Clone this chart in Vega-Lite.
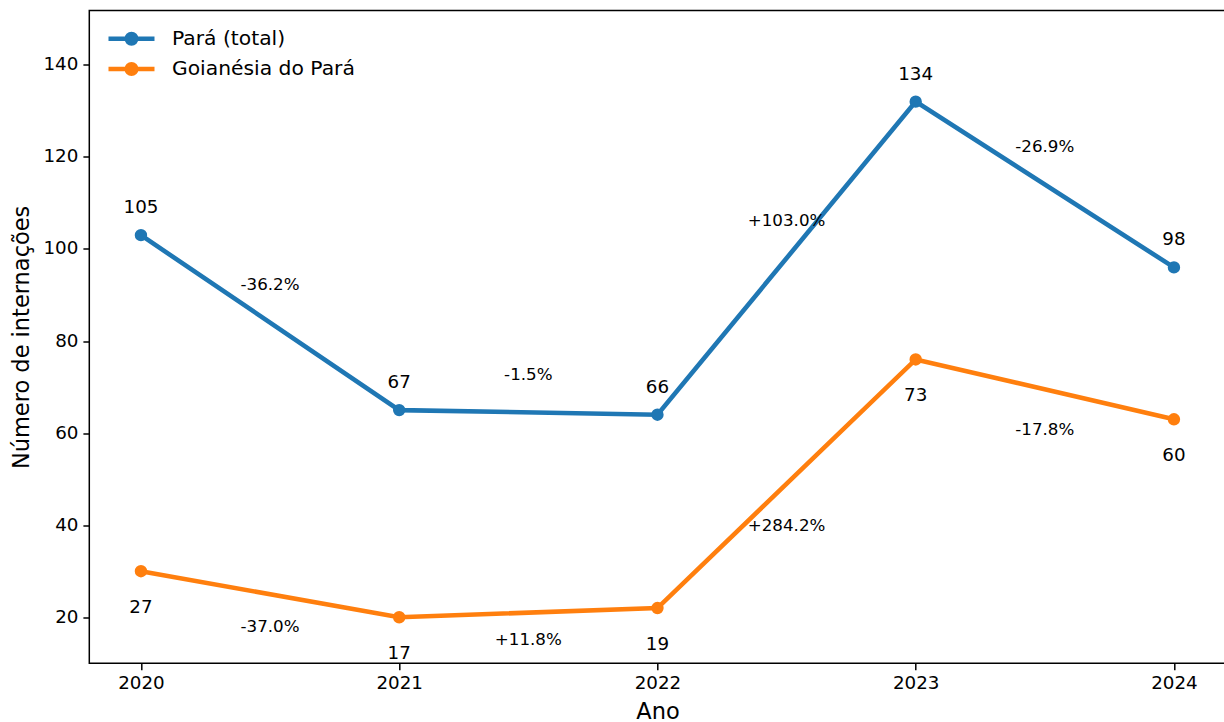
{
  "$schema": "https://vega.github.io/schema/vega-lite/v6.json",
  "width": 1136.3,
  "height": 652.8,
  "autosize": {"type": "none"},
  "padding": {"left": 89.3, "top": 10.5, "right": 0, "bottom": 58.7},
  "background": "white",
  "config": {
    "font": "DejaVu Sans",
    "view": {"stroke": "black", "strokeWidth": 1.5},
    "axis": {
      "grid": false,
      "domain": false,
      "tickColor": "black",
      "tickWidth": 1.5,
      "tickSize": 6.4,
      "labelColor": "black",
      "labelFont": "DejaVu Sans",
      "labelFontSize": 18.3,
      "titleFont": "DejaVu Sans",
      "titleFontSize": 22.5,
      "titleFontWeight": "normal",
      "titleColor": "black"
    }
  },
  "datasets": {
    "series": [
      {"ano": 2020, "serie": "Pará (total)", "valor": 103, "rotulo": "105"},
      {"ano": 2021, "serie": "Pará (total)", "valor": 65, "rotulo": "67"},
      {"ano": 2022, "serie": "Pará (total)", "valor": 64, "rotulo": "66"},
      {"ano": 2023, "serie": "Pará (total)", "valor": 132, "rotulo": "134"},
      {"ano": 2024, "serie": "Pará (total)", "valor": 96, "rotulo": "98"},
      {"ano": 2020, "serie": "Goianésia do Pará", "valor": 30, "rotulo": "27"},
      {"ano": 2021, "serie": "Goianésia do Pará", "valor": 20, "rotulo": "17"},
      {"ano": 2022, "serie": "Goianésia do Pará", "valor": 22, "rotulo": "19"},
      {"ano": 2023, "serie": "Goianésia do Pará", "valor": 76, "rotulo": "73"},
      {"ano": 2024, "serie": "Goianésia do Pará", "valor": 63, "rotulo": "60"}
    ],
    "variacoes": [
      {"ano": 2020.5, "y": 92.2, "texto": "-36.2%"},
      {"ano": 2021.5, "y": 72.6, "texto": "-1.5%"},
      {"ano": 2022.5, "y": 106.1, "texto": "+103.0%"},
      {"ano": 2023.5, "y": 122.2, "texto": "-26.9%"},
      {"ano": 2020.5, "y": 17.9, "texto": "-37.0%"},
      {"ano": 2021.5, "y": 15.1, "texto": "+11.8%"},
      {"ano": 2022.5, "y": 39.8, "texto": "+284.2%"},
      {"ano": 2023.5, "y": 60.7, "texto": "-17.8%"}
    ]
  },
  "encoding": {
    "x": {
      "field": "ano",
      "type": "quantitative",
      "scale": {"domain": [2019.8, 2024.2], "nice": false, "zero": false},
      "axis": {"values": [2020, 2021, 2022, 2023, 2024], "format": "d", "title": "Ano", "labelPadding": 5, "titlePadding": 9}
    }
  },
  "layer": [
    {
      "data": {"name": "series"},
      "mark": {"type": "line", "strokeWidth": 4.6, "clip": false},
      "encoding": {
        "y": {
          "field": "valor",
          "type": "quantitative",
          "scale": {"domain": [10, 151.8], "nice": false, "zero": false},
          "axis": {"values": [20, 40, 60, 80, 100, 120, 140], "title": "Número de internações", "labelPadding": 5, "titlePadding": 10}
        },
        "color": {
          "field": "serie",
          "type": "nominal",
          "sort": ["Pará (total)", "Goianésia do Pará"],
          "scale": {"domain": ["Pará (total)", "Goianésia do Pará"], "range": ["#1f77b4", "#ff7f0e"]},
          "legend": {
            "title": null,
            "orient": "none",
            "legendX": 28.2,
            "legendY": 14.3,
            "symbolType": "M-2,0H2M-0.41,0A0.41,0.41,0,1,1,0.41,0A0.41,0.41,0,1,1,-0.41,0Z",
            "symbolSize": 529,
            "symbolStrokeWidth": 4.6,
            "labelFontSize": 20.3,
            "labelFont": "DejaVu Sans",
            "labelColor": "black",
            "labelLimit": 0,
            "labelOffset": 26.5,
            "rowPadding": 2.2,
            "padding": 0,
            "encode": {
              "symbols": {
                "update": {
                  "fill": {"scale": "color", "field": "value"},
                  "stroke": {"scale": "color", "field": "value"},
                  "opacity": {"value": 1}
                }
              }
            }
          }
        }
      }
    },
    {
      "data": {"name": "series"},
      "mark": {"type": "point", "filled": true, "size": 154, "opacity": 1},
      "encoding": {
        "y": {"field": "valor", "type": "quantitative"},
        "color": {"field": "serie", "type": "nominal"}
      }
    },
    {
      "data": {"name": "series"},
      "transform": [{"filter": "datum.serie === 'Pará (total)'"}],
      "mark": {"type": "text", "fontSize": 18.3, "dy": -27, "color": "black", "baseline": "middle"},
      "encoding": {
        "y": {"field": "valor", "type": "quantitative"},
        "text": {"field": "rotulo"}
      }
    },
    {
      "data": {"name": "series"},
      "transform": [{"filter": "datum.serie === 'Goianésia do Pará'"}],
      "mark": {"type": "text", "fontSize": 18.3, "dy": 37, "color": "black", "baseline": "middle"},
      "encoding": {
        "y": {"field": "valor", "type": "quantitative"},
        "text": {"field": "rotulo"}
      }
    },
    {
      "data": {"name": "variacoes"},
      "mark": {"type": "text", "fontSize": 16.7, "color": "black", "baseline": "middle"},
      "encoding": {
        "y": {"field": "y", "type": "quantitative"},
        "text": {"field": "texto"}
      }
    }
  ]
}
